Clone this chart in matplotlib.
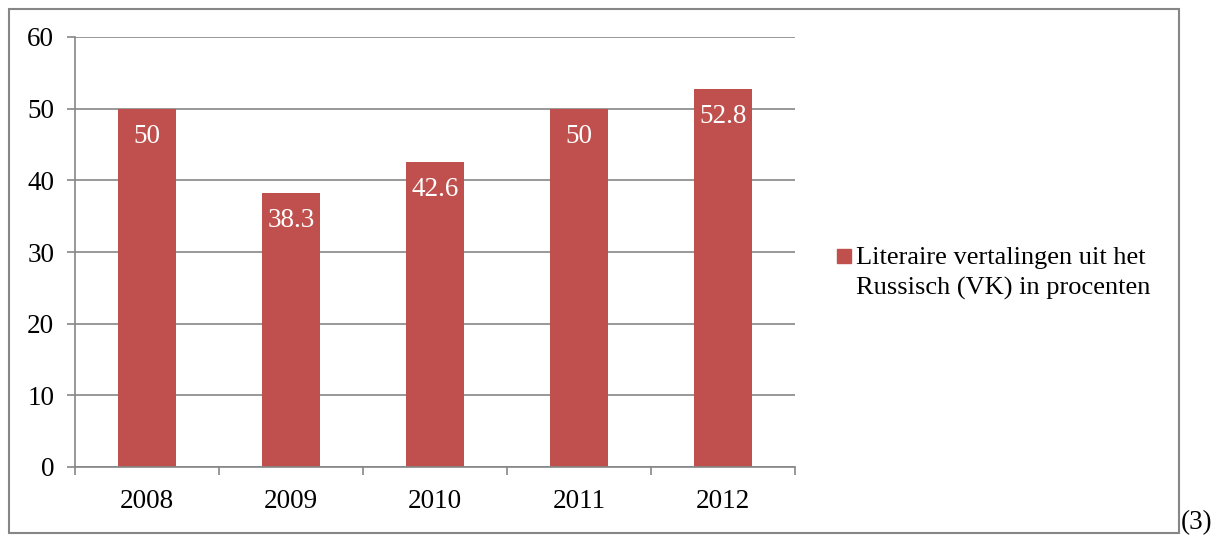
import matplotlib.pyplot as plt
from matplotlib.patches import Rectangle

years = ["2008", "2009", "2010", "2011", "2012"]
percent = [50, 38.3, 42.6, 50, 52.8]
series_name = "Literaire vertalingen uit het\nRussisch (VK) in procenten"

bar_color = "#C0504D"
grey = "#868686"

plt.rcParams["font.family"] = ["Liberation Serif", "DejaVu Serif"]
plt.rcParams["font.size"] = 19.5

fig = plt.figure(figsize=(12.22, 5.37), dpi=100)
ax = fig.add_axes([75 / 1222, 1 - 467 / 537, 720 / 1222, 430 / 537])

x = range(len(years))
bars = ax.bar(x, percent, width=0.4, color=bar_color, zorder=3)

# value labels inside the top of each bar
for xi, v in zip(x, percent):
    ax.annotate("{:g}".format(v), (xi, v), xytext=(0, -28), textcoords="offset pixels",
                ha="center", va="center", color="white", fontsize=19.5, zorder=4)

ax.set_xlim(-0.5, len(years) - 0.5)
ax.set_ylim(0, 60)
ax.set_yticks(range(0, 61, 10))
ax.yaxis.grid(True, color=grey, linewidth=1.2, zorder=0)

ax.set_xticks(list(x))
ax.set_xticklabels(years)
ax.set_xticks([i - 0.5 for i in range(len(years) + 1)], minor=True)
ax.tick_params(axis="x", which="major", length=0, pad=16)
ax.tick_params(axis="x", which="minor", length=6, color=grey, width=1.2)
ax.tick_params(axis="y", length=6, color=grey, width=1.2, pad=9)

for side in ["top", "right"]:
    ax.spines[side].set_visible(False)
for side in ["left", "bottom"]:
    ax.spines[side].set_color(grey)
    ax.spines[side].set_linewidth(1.2)
    ax.spines[side].set_zorder(5)

# legend, marker aligned with first line like the original
fig.patches.append(Rectangle((837 / 1222, 1 - 263 / 537), 14 / 1222, 14 / 537,
                             transform=fig.transFigure, color=bar_color))
fig.text(856 / 1222, 1 - 247 / 537, series_name, ha="left", va="top",
         fontsize=19, linespacing=1.43)

# chart border
fig.patches.append(Rectangle((9 / 1222, 1 - 533 / 537), 1170 / 1222, 524 / 537,
                             transform=fig.transFigure, fill=False,
                             edgecolor=grey, linewidth=1.5))
fig.text(1181 / 1222, 1 - 535 / 537, "(3)", ha="left", va="bottom", fontsize=19.5)

fig.savefig("out.png", dpi=100)
